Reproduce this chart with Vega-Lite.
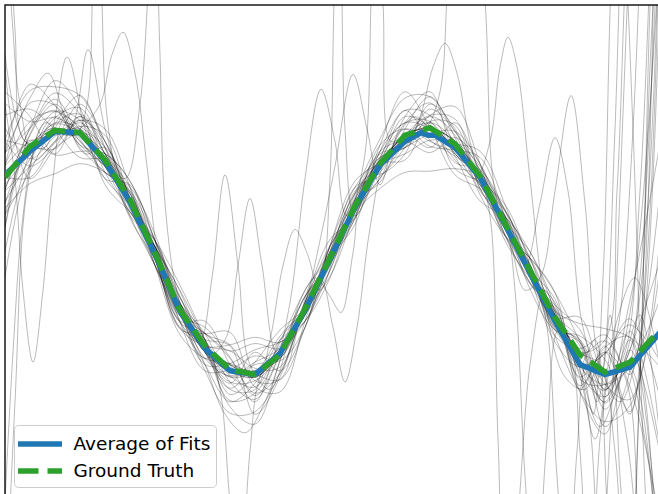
{
"$schema": "https://vega.github.io/schema/vega-lite/v6.json",
"width": 655, "height": 496,
"autosize": {"type": "none"},
"padding": {"left": 5, "top": 5, "right": 0, "bottom": 0},
"background": "white",
"config": {
  "view": {"stroke": "#1a1a1a", "strokeWidth": 1.5},
  "legend": {"orient": "none", "legendX": 9, "legendY": 420, "fillColor": "rgba(255,255,255,0.8)", "strokeColor": "#cccccc", "cornerRadius": 4, "padding": 5, "labelFont": "DejaVu Sans", "labelFontSize": 18.5, "labelColor": "#000000", "labelOffset": 19.5, "symbolSize": 484, "symbolOffset": 7, "symbolStrokeWidth": 5.5, "rowPadding": 2}
},
"datasets": {
"curves": [
{"series":"Ground Truth","x":0,"y":0.61},{"series":"Ground Truth","x":0.25,"y":0.86},{"series":"Ground Truth","x":0.5,"y":0.99},{"series":"Ground Truth","x":0.75,"y":0.97},{"series":"Ground Truth","x":1,"y":0.75},{"series":"Ground Truth","x":1.25,"y":0.43},{"series":"Ground Truth","x":1.5,"y":0.0},{"series":"Ground Truth","x":1.75,"y":-0.46},{"series":"Ground Truth","x":2,"y":-0.75},{"series":"Ground Truth","x":2.25,"y":-0.94},{"series":"Ground Truth","x":2.5,"y":-0.98},{"series":"Ground Truth","x":2.75,"y":-0.82},{"series":"Ground Truth","x":3,"y":-0.45},{"series":"Ground Truth","x":3.25,"y":-0.04},{"series":"Ground Truth","x":3.5,"y":0.38},{"series":"Ground Truth","x":3.75,"y":0.72},{"series":"Ground Truth","x":4,"y":0.95},{"series":"Ground Truth","x":4.25,"y":1.01},{"series":"Ground Truth","x":4.5,"y":0.88},{"series":"Ground Truth","x":4.75,"y":0.62},{"series":"Ground Truth","x":5,"y":0.24},{"series":"Ground Truth","x":5.25,"y":-0.14},{"series":"Ground Truth","x":5.5,"y":-0.52},{"series":"Ground Truth","x":5.75,"y":-0.82},{"series":"Ground Truth","x":6,"y":-0.96},{"series":"Ground Truth","x":6.25,"y":-0.88},{"series":"Ground Truth","x":6.55,"y":-0.62},
{"series":"Average of Fits","x":0,"y":0.63},{"series":"Average of Fits","x":0.25,"y":0.82},{"series":"Average of Fits","x":0.5,"y":0.98},{"series":"Average of Fits","x":0.75,"y":0.97},{"series":"Average of Fits","x":1,"y":0.74},{"series":"Average of Fits","x":1.25,"y":0.41},{"series":"Average of Fits","x":1.5,"y":-0.01},{"series":"Average of Fits","x":1.75,"y":-0.47},{"series":"Average of Fits","x":2,"y":-0.77},{"series":"Average of Fits","x":2.25,"y":-0.95},{"series":"Average of Fits","x":2.5,"y":-0.98},{"series":"Average of Fits","x":2.75,"y":-0.81},{"series":"Average of Fits","x":3,"y":-0.46},{"series":"Average of Fits","x":3.25,"y":-0.05},{"series":"Average of Fits","x":3.5,"y":0.37},{"series":"Average of Fits","x":3.75,"y":0.71},{"series":"Average of Fits","x":4,"y":0.9},{"series":"Average of Fits","x":4.16,"y":0.97},{"series":"Average of Fits","x":4.23,"y":0.95},{"series":"Average of Fits","x":4.3,"y":0.95},{"series":"Average of Fits","x":4.5,"y":0.85},{"series":"Average of Fits","x":4.75,"y":0.61},{"series":"Average of Fits","x":5,"y":0.23},{"series":"Average of Fits","x":5.25,"y":-0.16},{"series":"Average of Fits","x":5.5,"y":-0.55},{"series":"Average of Fits","x":5.75,"y":-0.9},{"series":"Average of Fits","x":6,"y":-0.98},{"series":"Average of Fits","x":6.25,"y":-0.92},{"series":"Average of Fits","x":6.55,"y":-0.64}
],
"fits": [
{"s":"T1","x":0,"y":0.71},{"s":"T1","x":0.25,"y":1.06},{"s":"T1","x":0.5,"y":1.14},{"s":"T1","x":0.75,"y":1.02},{"s":"T1","x":1,"y":0.85},{"s":"T1","x":1.25,"y":0.38},{"s":"T1","x":1.5,"y":0.05},{"s":"T1","x":1.75,"y":-0.46},{"s":"T1","x":2,"y":-0.85},{"s":"T1","x":2.25,"y":-0.99},{"s":"T1","x":2.5,"y":-0.88},{"s":"T1","x":2.75,"y":-0.77},{"s":"T1","x":3,"y":-0.5},{"s":"T1","x":3.25,"y":0.01},{"s":"T1","x":3.5,"y":0.48},{"s":"T1","x":3.75,"y":0.67},{"s":"T1","x":4,"y":1.05},{"s":"T1","x":4.25,"y":1.21},{"s":"T1","x":4.5,"y":0.88},{"s":"T1","x":4.75,"y":0.67},{"s":"T1","x":5,"y":0.19},{"s":"T1","x":5.25,"y":-0.04},{"s":"T1","x":5.5,"y":-0.52},{"s":"T1","x":5.75,"y":-0.92},{"s":"T1","x":6,"y":-0.81},{"s":"T1","x":6.25,"y":-0.58},{"s":"T1","x":6.55,"y":-0.87},
{"s":"T2","x":0,"y":0.41},{"s":"T2","x":0.25,"y":0.76},{"s":"T2","x":0.5,"y":1.09},{"s":"T2","x":0.75,"y":1.17},{"s":"T2","x":1,"y":0.8},{"s":"T2","x":1.25,"y":0.53},{"s":"T2","x":1.5,"y":-0.05},{"s":"T2","x":1.75,"y":-0.61},{"s":"T2","x":2,"y":-0.75},{"s":"T2","x":2.25,"y":-0.79},{"s":"T2","x":2.5,"y":-0.93},{"s":"T2","x":2.75,"y":-0.92},{"s":"T2","x":3,"y":-0.4},{"s":"T2","x":3.25,"y":0.06},{"s":"T2","x":3.5,"y":0.33},{"s":"T2","x":3.75,"y":0.72},{"s":"T2","x":4,"y":1.1},{"s":"T2","x":4.25,"y":1.01},{"s":"T2","x":4.5,"y":0.73},{"s":"T2","x":4.75,"y":0.67},{"s":"T2","x":5,"y":0.34},{"s":"T2","x":5.25,"y":-0.19},{"s":"T2","x":5.5,"y":-0.42},{"s":"T2","x":5.75,"y":-0.62},{"s":"T2","x":6,"y":-1.06},{"s":"T2","x":6.25,"y":-1.18},{"s":"T2","x":6.55,"y":0.13},
{"s":"T3","x":0,"y":0.91},{"s":"T3","x":0.25,"y":0.86},{"s":"T3","x":0.5,"y":0.84},{"s":"T3","x":0.75,"y":1.07},{"s":"T3","x":1,"y":0.9},{"s":"T3","x":1.25,"y":0.38},{"s":"T3","x":1.5,"y":-0.1},{"s":"T3","x":1.75,"y":-0.41},{"s":"T3","x":2,"y":-0.65},{"s":"T3","x":2.25,"y":-1.04},{"s":"T3","x":2.5,"y":-1.18},{"s":"T3","x":2.75,"y":-0.82},{"s":"T3","x":3,"y":-0.35},{"s":"T3","x":3.25,"y":-0.09},{"s":"T3","x":3.5,"y":0.38},{"s":"T3","x":3.75,"y":0.82},{"s":"T3","x":4,"y":0.9},{"s":"T3","x":4.25,"y":0.81},{"s":"T3","x":4.5,"y":0.93},{"s":"T3","x":4.75,"y":0.72},{"s":"T3","x":5,"y":0.24},{"s":"T3","x":5.25,"y":-0.09},{"s":"T3","x":5.5,"y":-0.62},{"s":"T3","x":5.75,"y":-0.82},{"s":"T3","x":6,"y":-0.71},{"s":"T3","x":6.25,"y":-1.08},{"s":"T3","x":6.55,"y":-2.17},
{"s":"T4","x":0,"y":0.21},{"s":"T4","x":0.25,"y":0.96},{"s":"T4","x":0.5,"y":1.24},{"s":"T4","x":0.75,"y":0.92},{"s":"T4","x":1,"y":0.65},{"s":"T4","x":1.25,"y":0.53},{"s":"T4","x":1.5,"y":0.15},{"s":"T4","x":1.75,"y":-0.46},{"s":"T4","x":2,"y":-0.9},{"s":"T4","x":2.25,"y":-0.89},{"s":"T4","x":2.5,"y":-0.78},{"s":"T4","x":2.75,"y":-0.72},{"s":"T4","x":3,"y":-0.55},{"s":"T4","x":3.25,"y":-0.04},{"s":"T4","x":3.5,"y":0.53},{"s":"T4","x":3.75,"y":0.62},{"s":"T4","x":4,"y":0.85},{"s":"T4","x":4.25,"y":1.16},{"s":"T4","x":4.5,"y":0.98},{"s":"T4","x":4.75,"y":0.57},{"s":"T4","x":5,"y":0.14},{"s":"T4","x":5.25,"y":-0.14},{"s":"T4","x":5.5,"y":-0.37},{"s":"T4","x":5.75,"y":-0.97},{"s":"T4","x":6,"y":-1.16},{"s":"T4","x":6.25,"y":-0.48},{"s":"T4","x":6.55,"y":2.5},
{"s":"T5","x":0,"y":1.11},{"s":"T5","x":0.25,"y":1.16},{"s":"T5","x":0.5,"y":0.99},{"s":"T5","x":0.75,"y":0.77},{"s":"T5","x":1,"y":0.75},{"s":"T5","x":1.25,"y":0.48},{"s":"T5","x":1.5,"y":0.0},{"s":"T5","x":1.75,"y":-0.36},{"s":"T5","x":2,"y":-0.7},{"s":"T5","x":2.25,"y":-1.14},{"s":"T5","x":2.5,"y":-0.98},{"s":"T5","x":2.75,"y":-0.67},{"s":"T5","x":3,"y":-0.45},{"s":"T5","x":3.25,"y":-0.14},{"s":"T5","x":3.5,"y":0.43},{"s":"T5","x":3.75,"y":0.77},{"s":"T5","x":4,"y":1.15},{"s":"T5","x":4.25,"y":0.91},{"s":"T5","x":4.5,"y":0.78},{"s":"T5","x":4.75,"y":0.62},{"s":"T5","x":5,"y":0.34},{"s":"T5","x":5.25,"y":-0.04},{"s":"T5","x":5.5,"y":-0.57},{"s":"T5","x":5.75,"y":-0.72},{"s":"T5","x":6,"y":-1.26},{"s":"T5","x":6.25,"y":-0.78},{"s":"T5","x":6.55,"y":-0.07},
{"s":"T6","x":0,"y":0.61},{"s":"T6","x":0.25,"y":0.61},{"s":"T6","x":0.5,"y":0.89},{"s":"T6","x":0.75,"y":1.02},{"s":"T6","x":1,"y":0.95},{"s":"T6","x":1.25,"y":0.43},{"s":"T6","x":1.5,"y":-0.1},{"s":"T6","x":1.75,"y":-0.51},{"s":"T6","x":2,"y":-0.6},{"s":"T6","x":2.25,"y":-0.84},{"s":"T6","x":2.5,"y":-1.13},{"s":"T6","x":2.75,"y":-0.97},{"s":"T6","x":3,"y":-0.4},{"s":"T6","x":3.25,"y":0.11},{"s":"T6","x":3.5,"y":0.28},{"s":"T6","x":3.75,"y":0.67},{"s":"T6","x":4,"y":0.95},{"s":"T6","x":4.25,"y":1.11},{"s":"T6","x":4.5,"y":1.08},{"s":"T6","x":4.75,"y":0.52},{"s":"T6","x":5,"y":0.19},{"s":"T6","x":5.25,"y":-0.24},{"s":"T6","x":5.5,"y":-0.47},{"s":"T6","x":5.75,"y":-1.07},{"s":"T6","x":6,"y":-0.76},{"s":"T6","x":6.25,"y":-0.68},{"s":"T6","x":6.55,"y":-3.67},
{"s":"T7","x":0,"y":0.81},{"s":"T7","x":0.25,"y":1.01},{"s":"T7","x":0.5,"y":1.29},{"s":"T7","x":0.75,"y":1.12},{"s":"T7","x":1,"y":0.7},{"s":"T7","x":1.25,"y":0.33},{"s":"T7","x":1.5,"y":0.05},{"s":"T7","x":1.75,"y":-0.31},{"s":"T7","x":2,"y":-0.8},{"s":"T7","x":2.25,"y":-1.09},{"s":"T7","x":2.5,"y":-0.88},{"s":"T7","x":2.75,"y":-0.62},{"s":"T7","x":3,"y":-0.45},{"s":"T7","x":3.25,"y":-0.19},{"s":"T7","x":3.5,"y":0.33},{"s":"T7","x":3.75,"y":0.87},{"s":"T7","x":4,"y":1.0},{"s":"T7","x":4.25,"y":0.86},{"s":"T7","x":4.5,"y":0.83},{"s":"T7","x":4.75,"y":0.77},{"s":"T7","x":5,"y":0.29},{"s":"T7","x":5.25,"y":-0.29},{"s":"T7","x":5.5,"y":-0.62},{"s":"T7","x":5.75,"y":-0.67},{"s":"T7","x":6,"y":-0.86},{"s":"T7","x":6.25,"y":-1.28},{"s":"T7","x":6.55,"y":2.2},
{"s":"T8","x":0,"y":0.51},{"s":"T8","x":0.25,"y":0.91},{"s":"T8","x":0.5,"y":0.79},{"s":"T8","x":0.75,"y":0.82},{"s":"T8","x":1,"y":0.8},{"s":"T8","x":1.25,"y":0.58},{"s":"T8","x":1.5,"y":0.1},{"s":"T8","x":1.75,"y":-0.56},{"s":"T8","x":2,"y":-0.95},{"s":"T8","x":2.25,"y":-0.94},{"s":"T8","x":2.5,"y":-0.83},{"s":"T8","x":2.75,"y":-0.87},{"s":"T8","x":3,"y":-0.6},{"s":"T8","x":3.25,"y":0.01},{"s":"T8","x":3.5,"y":0.48},{"s":"T8","x":3.75,"y":0.72},{"s":"T8","x":4,"y":0.75},{"s":"T8","x":4.25,"y":1.06},{"s":"T8","x":4.5,"y":1.03},{"s":"T8","x":4.75,"y":0.52},{"s":"T8","x":5,"y":0.24},{"s":"T8","x":5.25,"y":0.01},{"s":"T8","x":5.5,"y":-0.42},{"s":"T8","x":5.75,"y":-0.87},{"s":"T8","x":6,"y":-1.11},{"s":"T8","x":6.25,"y":-0.63},{"s":"T8","x":6.55,"y":-1.57},
{"s":"T9","x":0,"y":1.21},{"s":"T9","x":0.25,"y":1.06},{"s":"T9","x":0.5,"y":1.09},{"s":"T9","x":0.75,"y":0.97},{"s":"T9","x":1,"y":0.6},{"s":"T9","x":1.25,"y":0.38},{"s":"T9","x":1.5,"y":0.1},{"s":"T9","x":1.75,"y":-0.41},{"s":"T9","x":2,"y":-0.65},{"s":"T9","x":2.25,"y":-0.74},{"s":"T9","x":2.5,"y":-1.03},{"s":"T9","x":2.75,"y":-1.02},{"s":"T9","x":3,"y":-0.4},{"s":"T9","x":3.25,"y":-0.04},{"s":"T9","x":3.5,"y":0.23},{"s":"T9","x":3.75,"y":0.82},{"s":"T9","x":4,"y":1.05},{"s":"T9","x":4.25,"y":1.06},{"s":"T9","x":4.5,"y":0.68},{"s":"T9","x":4.75,"y":0.57},{"s":"T9","x":5,"y":0.39},{"s":"T9","x":5.25,"y":-0.09},{"s":"T9","x":5.5,"y":-0.67},{"s":"T9","x":5.75,"y":-0.77},{"s":"T9","x":6,"y":-0.66},{"s":"T9","x":6.25,"y":-0.98},{"s":"T9","x":6.55,"y":2.8},
{"s":"T10","x":0,"y":0.31},{"s":"T10","x":0.25,"y":0.66},{"s":"T10","x":0.5,"y":1.04},{"s":"T10","x":0.75,"y":1.27},{"s":"T10","x":1,"y":0.85},{"s":"T10","x":1.25,"y":0.28},{"s":"T10","x":1.5,"y":-0.05},{"s":"T10","x":1.75,"y":-0.41},{"s":"T10","x":2,"y":-0.7},{"s":"T10","x":2.25,"y":-0.99},{"s":"T10","x":2.5,"y":-1.08},{"s":"T10","x":2.75,"y":-0.72},{"s":"T10","x":3,"y":-0.3},{"s":"T10","x":3.25,"y":0.01},{"s":"T10","x":3.5,"y":0.43},{"s":"T10","x":3.75,"y":0.57},{"s":"T10","x":4,"y":1.0},{"s":"T10","x":4.25,"y":1.26},{"s":"T10","x":4.5,"y":0.93},{"s":"T10","x":4.75,"y":0.47},{"s":"T10","x":5,"y":0.14},{"s":"T10","x":5.25,"y":-0.04},{"s":"T10","x":5.5,"y":-0.32},{"s":"T10","x":5.75,"y":-0.72},{"s":"T10","x":6,"y":-1.21},{"s":"T10","x":6.25,"y":-0.93},{"s":"T10","x":6.55,"y":-2.67},
{"s":"T11","x":0,"y":0.71},{"s":"T11","x":0.25,"y":1.21},{"s":"T11","x":0.5,"y":1.19},{"s":"T11","x":0.75,"y":0.87},{"s":"T11","x":1,"y":0.7},{"s":"T11","x":1.25,"y":0.48},{"s":"T11","x":1.5,"y":-0.05},{"s":"T11","x":1.75,"y":-0.56},{"s":"T11","x":2,"y":-0.65},{"s":"T11","x":2.25,"y":-0.79},{"s":"T11","x":2.5,"y":-0.73},{"s":"T11","x":2.75,"y":-0.77},{"s":"T11","x":3,"y":-0.55},{"s":"T11","x":3.25,"y":-0.14},{"s":"T11","x":3.5,"y":0.43},{"s":"T11","x":3.75,"y":0.77},{"s":"T11","x":4,"y":0.85},{"s":"T11","x":4.25,"y":0.96},{"s":"T11","x":4.5,"y":0.98},{"s":"T11","x":4.75,"y":0.72},{"s":"T11","x":5,"y":0.14},{"s":"T11","x":5.25,"y":-0.24},{"s":"T11","x":5.5,"y":-0.52},{"s":"T11","x":5.75,"y":-0.52},{"s":"T11","x":6,"y":-0.96},{"s":"T11","x":6.25,"y":-0.88},{"s":"T11","x":6.55,"y":-0.37},
{"s":"T12","x":0,"y":0.61},{"s":"T12","x":0.25,"y":0.86},{"s":"T12","x":0.5,"y":1.04},{"s":"T12","x":0.75,"y":0.97},{"s":"T12","x":1,"y":0.75},{"s":"T12","x":1.25,"y":0.43},{"s":"T12","x":1.5,"y":0.0},{"s":"T12","x":1.75,"y":-0.46},{"s":"T12","x":2,"y":-0.8},{"s":"T12","x":2.25,"y":-1.04},{"s":"T12","x":2.5,"y":-1.03},{"s":"T12","x":2.75,"y":-0.82},{"s":"T12","x":3,"y":-0.45},{"s":"T12","x":3.25,"y":-0.04},{"s":"T12","x":3.5,"y":0.38},{"s":"T12","x":3.75,"y":0.72},{"s":"T12","x":4,"y":0.95},{"s":"T12","x":4.25,"y":0.96},{"s":"T12","x":4.5,"y":0.83},{"s":"T12","x":4.75,"y":0.62},{"s":"T12","x":5,"y":0.24},{"s":"T12","x":5.25,"y":-0.14},{"s":"T12","x":5.5,"y":-0.52},{"s":"T12","x":5.75,"y":-0.92},{"s":"T12","x":6,"y":-1.06},{"s":"T12","x":6.25,"y":-0.93},{"s":"T12","x":6.55,"y":-0.67},
{"s":"T13","x":0,"y":1.01},{"s":"T13","x":0.25,"y":0.76},{"s":"T13","x":0.5,"y":0.94},{"s":"T13","x":0.75,"y":1.07},{"s":"T13","x":1,"y":1.0},{"s":"T13","x":1.25,"y":0.53},{"s":"T13","x":1.5,"y":-0.1},{"s":"T13","x":1.75,"y":-0.66},{"s":"T13","x":2,"y":-0.85},{"s":"T13","x":2.25,"y":-0.89},{"s":"T13","x":2.5,"y":-0.98},{"s":"T13","x":2.75,"y":-1.02},{"s":"T13","x":3,"y":-0.6},{"s":"T13","x":3.25,"y":0.06},{"s":"T13","x":3.5,"y":0.58},{"s":"T13","x":3.75,"y":0.72},{"s":"T13","x":4,"y":0.8},{"s":"T13","x":4.25,"y":0.91},{"s":"T13","x":4.5,"y":0.88},{"s":"T13","x":4.75,"y":0.82},{"s":"T13","x":5,"y":0.39},{"s":"T13","x":5.25,"y":-0.19},{"s":"T13","x":5.5,"y":-0.72},{"s":"T13","x":5.75,"y":-0.92},{"s":"T13","x":6,"y":-0.81},{"s":"T13","x":6.25,"y":-0.53},{"s":"T13","x":6.55,"y":-1.17},
{"s":"T14","x":0,"y":0.01},{"s":"T14","x":0.25,"y":0.81},{"s":"T14","x":0.5,"y":1.14},{"s":"T14","x":0.75,"y":1.07},{"s":"T14","x":1,"y":0.65},{"s":"T14","x":1.25,"y":0.33},{"s":"T14","x":1.5,"y":0.05},{"s":"T14","x":1.75,"y":-0.36},{"s":"T14","x":2,"y":-0.75},{"s":"T14","x":2.25,"y":-1.19},{"s":"T14","x":2.5,"y":-1.13},{"s":"T14","x":2.75,"y":-0.77},{"s":"T14","x":3,"y":-0.35},{"s":"T14","x":3.25,"y":-0.09},{"s":"T14","x":3.5,"y":0.28},{"s":"T14","x":3.75,"y":0.82},{"s":"T14","x":4,"y":1.15},{"s":"T14","x":4.25,"y":1.11},{"s":"T14","x":4.5,"y":0.78},{"s":"T14","x":4.75,"y":0.42},{"s":"T14","x":5,"y":0.29},{"s":"T14","x":5.25,"y":0.01},{"s":"T14","x":5.5,"y":-0.47},{"s":"T14","x":5.75,"y":-1.02},{"s":"T14","x":6,"y":-1.06},{"s":"T14","x":6.25,"y":-0.78},{"s":"T14","x":6.55,"y":3.0},
{"s":"T15","x":0,"y":0.91},{"s":"T15","x":0.25,"y":1.31},{"s":"T15","x":0.5,"y":1.34},{"s":"T15","x":0.75,"y":1.27},{"s":"T15","x":1,"y":0.9},{"s":"T15","x":1.25,"y":0.43},{"s":"T15","x":1.5,"y":-0.05},{"s":"T15","x":1.75,"y":-0.56},{"s":"T15","x":2,"y":-0.75},{"s":"T15","x":2.25,"y":-0.74},{"s":"T15","x":2.5,"y":-0.68},{"s":"T15","x":2.75,"y":-0.72},{"s":"T15","x":3,"y":-0.5},{"s":"T15","x":3.25,"y":-0.04},{"s":"T15","x":3.5,"y":0.48},{"s":"T15","x":3.75,"y":0.92},{"s":"T15","x":4,"y":1.25},{"s":"T15","x":4.25,"y":1.26},{"s":"T15","x":4.5,"y":0.98},{"s":"T15","x":4.75,"y":0.67},{"s":"T15","x":5,"y":0.24},{"s":"T15","x":5.25,"y":-0.19},{"s":"T15","x":5.5,"y":-0.47},{"s":"T15","x":5.75,"y":-0.57},{"s":"T15","x":6,"y":-0.61},{"s":"T15","x":6.25,"y":-0.68},{"s":"T15","x":6.55,"y":-0.92},
{"s":"T16","x":0,"y":0.36},{"s":"T16","x":0.25,"y":0.56},{"s":"T16","x":0.5,"y":0.64},{"s":"T16","x":0.75,"y":0.72},{"s":"T16","x":1,"y":0.65},{"s":"T16","x":1.25,"y":0.48},{"s":"T16","x":1.5,"y":0.05},{"s":"T16","x":1.75,"y":-0.46},{"s":"T16","x":2,"y":-0.95},{"s":"T16","x":2.25,"y":-1.29},{"s":"T16","x":2.5,"y":-1.28},{"s":"T16","x":2.75,"y":-0.97},{"s":"T16","x":3,"y":-0.45},{"s":"T16","x":3.25,"y":0.01},{"s":"T16","x":3.5,"y":0.33},{"s":"T16","x":3.75,"y":0.52},{"s":"T16","x":4,"y":0.65},{"s":"T16","x":4.25,"y":0.66},{"s":"T16","x":4.5,"y":0.68},{"s":"T16","x":4.75,"y":0.62},{"s":"T16","x":5,"y":0.29},{"s":"T16","x":5.25,"y":-0.14},{"s":"T16","x":5.5,"y":-0.67},{"s":"T16","x":5.75,"y":-1.12},{"s":"T16","x":6,"y":-1.36},{"s":"T16","x":6.25,"y":-1.23},{"s":"T16","x":6.55,"y":-0.12},
{"s":"T17","x":0,"y":0.81},{"s":"T17","x":0.25,"y":1.36},{"s":"T17","x":0.5,"y":1.19},{"s":"T17","x":0.75,"y":0.87},{"s":"T17","x":1,"y":0.8},{"s":"T17","x":1.25,"y":0.58},{"s":"T17","x":1.5,"y":0.0},{"s":"T17","x":1.75,"y":-0.61},{"s":"T17","x":2,"y":-0.65},{"s":"T17","x":2.25,"y":-0.64},{"s":"T17","x":2.5,"y":-1.08},{"s":"T17","x":2.75,"y":-1.12},{"s":"T17","x":3,"y":-0.55},{"s":"T17","x":3.25,"y":0.06},{"s":"T17","x":3.5,"y":0.53},{"s":"T17","x":3.75,"y":0.77},{"s":"T17","x":4,"y":0.85},{"s":"T17","x":4.25,"y":1.11},{"s":"T17","x":4.5,"y":1.18},{"s":"T17","x":4.75,"y":0.72},{"s":"T17","x":5,"y":0.14},{"s":"T17","x":5.25,"y":-0.04},{"s":"T17","x":5.5,"y":-0.32},{"s":"T17","x":5.75,"y":-1.12},{"s":"T17","x":6,"y":-1.46},{"s":"T17","x":6.25,"y":-0.78},{"s":"T17","x":6.55,"y":-1.62},
{"s":"T18","x":0,"y":0.51},{"s":"T18","x":0.25,"y":1.01},{"s":"T18","x":0.5,"y":1.39},{"s":"T18","x":0.75,"y":1.17},{"s":"T18","x":1,"y":0.55},{"s":"T18","x":1.25,"y":0.33},{"s":"T18","x":1.5,"y":0.1},{"s":"T18","x":1.75,"y":-0.26},{"s":"T18","x":2,"y":-0.7},{"s":"T18","x":2.25,"y":-1.24},{"s":"T18","x":2.5,"y":-1.38},{"s":"T18","x":2.75,"y":-0.87},{"s":"T18","x":3,"y":-0.3},{"s":"T18","x":3.25,"y":-0.04},{"s":"T18","x":3.5,"y":0.28},{"s":"T18","x":3.75,"y":0.87},{"s":"T18","x":4,"y":1.3},{"s":"T18","x":4.25,"y":1.01},{"s":"T18","x":4.5,"y":0.63},{"s":"T18","x":4.75,"y":0.52},{"s":"T18","x":5,"y":0.34},{"s":"T18","x":5.25,"y":-0.14},{"s":"T18","x":5.5,"y":-0.62},{"s":"T18","x":5.75,"y":-0.72},{"s":"T18","x":6,"y":-1.16},{"s":"T18","x":6.25,"y":-0.38},{"s":"T18","x":6.55,"y":0.88},
{"s":"M1","x":0,"y":0.9},{"s":"M1","x":0.25,"y":0.7},{"s":"M1","x":0.5,"y":0.85},{"s":"M1","x":0.75,"y":1.0},{"s":"M1","x":0.95,"y":1.2},{"s":"M1","x":1.07,"y":1.6},{"s":"M1","x":1.18,"y":1.78},{"s":"M1","x":1.3,"y":1.45},{"s":"M1","x":1.42,"y":0.7},{"s":"M1","x":1.55,"y":-0.1},{"s":"M1","x":1.75,"y":-0.55},{"s":"M1","x":2,"y":-0.9},{"s":"M1","x":2.25,"y":-1.2},{"s":"M1","x":2.5,"y":-1.05},{"s":"M1","x":2.75,"y":-0.7},{"s":"M1","x":3,"y":-0.55},{"s":"M1","x":3.25,"y":-0.2},{"s":"M1","x":3.5,"y":0.4},{"s":"M1","x":3.75,"y":0.75},{"s":"M1","x":4,"y":0.9},{"s":"M1","x":4.25,"y":1.1},{"s":"M1","x":4.5,"y":0.95},{"s":"M1","x":4.75,"y":0.5},{"s":"M1","x":5,"y":0.3},{"s":"M1","x":5.25,"y":-0.2},{"s":"M1","x":5.5,"y":-0.45},{"s":"M1","x":5.75,"y":-1.0},{"s":"M1","x":6,"y":-0.8},{"s":"M1","x":6.25,"y":-1.3},{"s":"M1","x":6.5,"y":3.0},
{"s":"M2","x":0,"y":1.3},{"s":"M2","x":0.25,"y":1.1},{"s":"M2","x":0.5,"y":0.8},{"s":"M2","x":0.75,"y":1.1},{"s":"M2","x":1,"y":0.8},{"s":"M2","x":1.25,"y":0.3},{"s":"M2","x":1.5,"y":0.1},{"s":"M2","x":1.75,"y":-0.4},{"s":"M2","x":1.95,"y":-0.7},{"s":"M2","x":2.07,"y":-0.2},{"s":"M2","x":2.2,"y":0.63},{"s":"M2","x":2.33,"y":-0.1},{"s":"M2","x":2.45,"y":-0.9},{"s":"M2","x":2.65,"y":-1.1},{"s":"M2","x":2.85,"y":-0.7},{"s":"M2","x":3,"y":-0.5},{"s":"M2","x":3.25,"y":0.05},{"s":"M2","x":3.5,"y":0.35},{"s":"M2","x":3.75,"y":0.6},{"s":"M2","x":4,"y":0.9},{"s":"M2","x":4.15,"y":1.1},{"s":"M2","x":4.28,"y":1.5},{"s":"M2","x":4.4,"y":1.69},{"s":"M2","x":4.52,"y":1.45},{"s":"M2","x":4.65,"y":0.9},{"s":"M2","x":4.8,"y":0.5},{"s":"M2","x":5,"y":0.2},{"s":"M2","x":5.25,"y":-0.2},{"s":"M2","x":5.5,"y":-0.6},{"s":"M2","x":5.75,"y":-0.9},{"s":"M2","x":6,"y":-1.2},{"s":"M2","x":6.25,"y":-0.7},{"s":"M2","x":6.55,"y":-2.5},
{"s":"M3","x":0,"y":0.3},{"s":"M3","x":0.25,"y":0.95},{"s":"M3","x":0.5,"y":1.2},{"s":"M3","x":0.75,"y":0.9},{"s":"M3","x":1,"y":0.7},{"s":"M3","x":1.25,"y":0.5},{"s":"M3","x":1.5,"y":-0.1},{"s":"M3","x":1.75,"y":-0.5},{"s":"M3","x":2,"y":-0.85},{"s":"M3","x":2.2,"y":-0.7},{"s":"M3","x":2.33,"y":-0.1},{"s":"M3","x":2.45,"y":0.44},{"s":"M3","x":2.57,"y":-0.1},{"s":"M3","x":2.72,"y":-0.8},{"s":"M3","x":2.9,"y":-0.6},{"s":"M3","x":3.1,"y":-0.3},{"s":"M3","x":3.3,"y":0.0},{"s":"M3","x":3.5,"y":0.3},{"s":"M3","x":3.75,"y":0.75},{"s":"M3","x":4,"y":1.0},{"s":"M3","x":4.25,"y":0.9},{"s":"M3","x":4.5,"y":0.8},{"s":"M3","x":4.7,"y":0.6},{"s":"M3","x":4.85,"y":0.9},{"s":"M3","x":4.95,"y":1.5},{"s":"M3","x":5.03,"y":1.74},{"s":"M3","x":5.12,"y":1.5},{"s":"M3","x":5.25,"y":0.6},{"s":"M3","x":5.4,"y":-0.4},{"s":"M3","x":5.6,"y":-1.0},{"s":"M3","x":5.8,"y":-1.1},{"s":"M3","x":6,"y":-0.8},{"s":"M3","x":6.2,"y":-1.0},{"s":"M3","x":6.35,"y":-2.5},{"s":"M3","x":6.5,"y":-4.0},
{"s":"M4","x":0,"y":0.5},{"s":"M4","x":0.25,"y":0.7},{"s":"M4","x":0.5,"y":0.9},{"s":"M4","x":0.75,"y":1.2},{"s":"M4","x":1,"y":0.9},{"s":"M4","x":1.25,"y":0.45},{"s":"M4","x":1.5,"y":0.05},{"s":"M4","x":1.75,"y":-0.3},{"s":"M4","x":2,"y":-0.7},{"s":"M4","x":2.25,"y":-1.1},{"s":"M4","x":2.5,"y":-1.1},{"s":"M4","x":2.65,"y":-0.7},{"s":"M4","x":2.78,"y":-0.1},{"s":"M4","x":2.9,"y":0.19},{"s":"M4","x":3.02,"y":0.0},{"s":"M4","x":3.15,"y":-0.3},{"s":"M4","x":3.3,"y":0.0},{"s":"M4","x":3.5,"y":0.45},{"s":"M4","x":3.75,"y":0.8},{"s":"M4","x":4,"y":0.85},{"s":"M4","x":4.25,"y":1.0},{"s":"M4","x":4.5,"y":0.9},{"s":"M4","x":4.75,"y":0.7},{"s":"M4","x":5,"y":0.3},{"s":"M4","x":5.2,"y":-0.1},{"s":"M4","x":5.35,"y":0.4},{"s":"M4","x":5.5,"y":0.93},{"s":"M4","x":5.63,"y":0.5},{"s":"M4","x":5.78,"y":-0.6},{"s":"M4","x":6,"y":-1.1},{"s":"M4","x":6.2,"y":-0.9},{"s":"M4","x":6.4,"y":-1.5},{"s":"M4","x":6.55,"y":-2.6},
{"s":"M5","x":0,"y":1.5},{"s":"M5","x":0.1,"y":0.9},{"s":"M5","x":0.25,"y":0.6},{"s":"M5","x":0.5,"y":0.85},{"s":"M5","x":0.75,"y":1.1},{"s":"M5","x":1,"y":0.85},{"s":"M5","x":1.25,"y":0.3},{"s":"M5","x":1.5,"y":-0.1},{"s":"M5","x":1.75,"y":-0.5},{"s":"M5","x":2,"y":-0.65},{"s":"M5","x":2.25,"y":-0.85},{"s":"M5","x":2.5,"y":-1.15},{"s":"M5","x":2.7,"y":-0.9},{"s":"M5","x":2.85,"y":-0.4},{"s":"M5","x":3,"y":0.6},{"s":"M5","x":3.16,"y":1.32},{"s":"M5","x":3.3,"y":0.9},{"s":"M5","x":3.42,"y":0.3},{"s":"M5","x":3.6,"y":0.45},{"s":"M5","x":3.8,"y":0.85},{"s":"M5","x":4,"y":1.05},{"s":"M5","x":4.25,"y":1.0},{"s":"M5","x":4.5,"y":0.75},{"s":"M5","x":4.75,"y":0.55},{"s":"M5","x":5,"y":0.25},{"s":"M5","x":5.2,"y":-0.3},{"s":"M5","x":5.35,"y":-0.2},{"s":"M5","x":5.5,"y":0.5},{"s":"M5","x":5.66,"y":1.27},{"s":"M5","x":5.8,"y":0.4},{"s":"M5","x":5.95,"y":-0.9},{"s":"M5","x":6.15,"y":-1.2},{"s":"M5","x":6.35,"y":-0.7},{"s":"M5","x":6.55,"y":0.5},
{"s":"M6","x":0,"y":1.2},{"s":"M6","x":0.1,"y":0.6},{"s":"M6","x":0.18,"y":-0.3},{"s":"M6","x":0.28,"y":-0.88},{"s":"M6","x":0.38,"y":-0.3},{"s":"M6","x":0.48,"y":0.6},{"s":"M6","x":0.6,"y":1.1},{"s":"M6","x":0.8,"y":1.1},{"s":"M6","x":1,"y":0.7},{"s":"M6","x":1.25,"y":0.4},{"s":"M6","x":1.5,"y":0.0},{"s":"M6","x":1.75,"y":-0.5},{"s":"M6","x":2,"y":-0.8},{"s":"M6","x":2.25,"y":-1.0},{"s":"M6","x":2.5,"y":-0.9},{"s":"M6","x":2.75,"y":-0.85},{"s":"M6","x":3,"y":-0.4},{"s":"M6","x":3.15,"y":0.1},{"s":"M6","x":3.3,"y":0.7},{"s":"M6","x":3.48,"y":1.44},{"s":"M6","x":3.62,"y":1.0},{"s":"M6","x":3.75,"y":0.55},{"s":"M6","x":3.9,"y":0.9},{"s":"M6","x":4.1,"y":1.1},{"s":"M6","x":4.3,"y":0.95},{"s":"M6","x":4.5,"y":0.85},{"s":"M6","x":4.75,"y":0.65},{"s":"M6","x":5,"y":0.2},{"s":"M6","x":5.25,"y":-0.1},{"s":"M6","x":5.5,"y":-0.6},{"s":"M6","x":5.75,"y":-0.7},{"s":"M6","x":6,"y":-1.1},{"s":"M6","x":6.2,"y":-0.8},{"s":"M6","x":6.35,"y":0.5},{"s":"M6","x":6.5,"y":3.5},
{"s":"M7","x":0,"y":0.2},{"s":"M7","x":0.25,"y":1.0},{"s":"M7","x":0.5,"y":1.15},{"s":"M7","x":0.75,"y":0.85},{"s":"M7","x":1,"y":0.65},{"s":"M7","x":1.25,"y":0.5},{"s":"M7","x":1.5,"y":0.1},{"s":"M7","x":1.75,"y":-0.45},{"s":"M7","x":2,"y":-0.9},{"s":"M7","x":2.2,"y":-1.3},{"s":"M7","x":2.4,"y":-1.45},{"s":"M7","x":2.6,"y":-1.2},{"s":"M7","x":2.8,"y":-0.75},{"s":"M7","x":3,"y":-0.35},{"s":"M7","x":3.15,"y":-0.2},{"s":"M7","x":3.28,"y":-0.6},{"s":"M7","x":3.4,"y":-1.04},{"s":"M7","x":3.52,"y":-0.6},{"s":"M7","x":3.65,"y":0.2},{"s":"M7","x":3.8,"y":0.75},{"s":"M7","x":4,"y":0.95},{"s":"M7","x":4.25,"y":1.05},{"s":"M7","x":4.5,"y":0.8},{"s":"M7","x":4.75,"y":0.6},{"s":"M7","x":5,"y":0.15},{"s":"M7","x":5.25,"y":-0.25},{"s":"M7","x":5.5,"y":-0.45},{"s":"M7","x":5.75,"y":-0.95},{"s":"M7","x":5.95,"y":-1.4},{"s":"M7","x":6.15,"y":-1.0},{"s":"M7","x":6.35,"y":-0.5},{"s":"M7","x":6.55,"y":-1.5},
{"s":"M8","x":0,"y":0.8},{"s":"M8","x":0.25,"y":1.25},{"s":"M8","x":0.43,"y":1.45},{"s":"M8","x":0.6,"y":1.1},{"s":"M8","x":0.8,"y":0.8},{"s":"M8","x":1,"y":0.85},{"s":"M8","x":1.25,"y":0.45},{"s":"M8","x":1.5,"y":-0.05},{"s":"M8","x":1.75,"y":-0.6},{"s":"M8","x":2,"y":-0.7},{"s":"M8","x":2.25,"y":-0.75},{"s":"M8","x":2.5,"y":-1.3},{"s":"M8","x":2.75,"y":-1.0},{"s":"M8","x":2.95,"y":-0.5},{"s":"M8","x":3.1,"y":-0.2},{"s":"M8","x":3.25,"y":-0.35},{"s":"M8","x":3.36,"y":-0.48},{"s":"M8","x":3.48,"y":0.0},{"s":"M8","x":3.6,"y":0.6},{"s":"M8","x":3.8,"y":0.65},{"s":"M8","x":4,"y":0.8},{"s":"M8","x":4.25,"y":1.2},{"s":"M8","x":4.5,"y":1.0},{"s":"M8","x":4.75,"y":0.55},{"s":"M8","x":5,"y":0.3},{"s":"M8","x":5.25,"y":-0.1},{"s":"M8","x":5.5,"y":-0.5},{"s":"M8","x":5.75,"y":-0.7},{"s":"M8","x":6,"y":-1.4},{"s":"M8","x":6.2,"y":-1.1},{"s":"M8","x":6.35,"y":-0.2},{"s":"M8","x":6.5,"y":2.0},
{"s":"M9","x":0,"y":1.6},{"s":"M9","x":0.2,"y":0.9},{"s":"M9","x":0.4,"y":0.85},{"s":"M9","x":0.62,"y":1.58},{"s":"M9","x":0.8,"y":1.0},{"s":"M9","x":1,"y":0.6},{"s":"M9","x":1.25,"y":0.55},{"s":"M9","x":1.5,"y":0.1},{"s":"M9","x":1.75,"y":-0.35},{"s":"M9","x":2,"y":-0.8},{"s":"M9","x":2.25,"y":-1.05},{"s":"M9","x":2.5,"y":-0.8},{"s":"M9","x":2.75,"y":-0.95},{"s":"M9","x":3,"y":-0.6},{"s":"M9","x":3.25,"y":0.05},{"s":"M9","x":3.5,"y":0.4},{"s":"M9","x":3.75,"y":0.6},{"s":"M9","x":4,"y":1.1},{"s":"M9","x":4.25,"y":1.3},{"s":"M9","x":4.5,"y":0.8},{"s":"M9","x":4.75,"y":0.65},{"s":"M9","x":5,"y":0.35},{"s":"M9","x":5.25,"y":-0.05},{"s":"M9","x":5.5,"y":-0.5},{"s":"M9","x":5.75,"y":-1.0},{"s":"M9","x":5.9,"y":-1.5},{"s":"M9","x":6.1,"y":-0.6},{"s":"M9","x":6.3,"y":-0.2},{"s":"M9","x":6.55,"y":-0.9},
{"s":"M10","x":0,"y":-0.2},{"s":"M10","x":0.2,"y":0.6},{"s":"M10","x":0.45,"y":1.0},{"s":"M10","x":0.65,"y":1.0},{"s":"M10","x":0.83,"y":1.64},{"s":"M10","x":1,"y":1.0},{"s":"M10","x":1.2,"y":0.5},{"s":"M10","x":1.5,"y":0.0},{"s":"M10","x":1.75,"y":-0.55},{"s":"M10","x":2,"y":-0.55},{"s":"M10","x":2.25,"y":-0.9},{"s":"M10","x":2.5,"y":-1.2},{"s":"M10","x":2.75,"y":-0.7},{"s":"M10","x":3,"y":-0.45},{"s":"M10","x":3.25,"y":-0.1},{"s":"M10","x":3.5,"y":0.5},{"s":"M10","x":3.75,"y":0.65},{"s":"M10","x":4,"y":0.95},{"s":"M10","x":4.25,"y":0.85},{"s":"M10","x":4.5,"y":1.05},{"s":"M10","x":4.75,"y":0.65},{"s":"M10","x":5,"y":0.1},{"s":"M10","x":5.25,"y":-0.2},{"s":"M10","x":5.5,"y":-0.4},{"s":"M10","x":5.75,"y":-1.1},{"s":"M10","x":6,"y":-0.75},{"s":"M10","x":6.2,"y":-1.4},{"s":"M10","x":6.35,"y":-2.5},{"s":"M10","x":6.5,"y":-3.5},
{"s":"W1","x":0,"y":3.5},{"s":"W1","x":0.1,"y":1.8},{"s":"W1","x":0.2,"y":0.9},{"s":"W1","x":0.4,"y":0.9},{"s":"W1","x":0.6,"y":1.1},{"s":"W1","x":0.8,"y":0.95},{"s":"W1","x":1,"y":0.8},{"s":"W1","x":1.25,"y":0.35},{"s":"W1","x":1.5,"y":-0.05},{"s":"W1","x":1.75,"y":-0.5},{"s":"W1","x":2,"y":-0.75},{"s":"W1","x":2.25,"y":-0.9},{"s":"W1","x":2.5,"y":-1.0},{"s":"W1","x":2.75,"y":-0.8},{"s":"W1","x":3,"y":-0.5},{"s":"W1","x":3.25,"y":-0.05},{"s":"W1","x":3.5,"y":0.35},{"s":"W1","x":3.75,"y":0.7},{"s":"W1","x":4,"y":0.95},{"s":"W1","x":4.25,"y":1.0},{"s":"W1","x":4.5,"y":0.85},{"s":"W1","x":4.75,"y":0.6},{"s":"W1","x":5,"y":0.25},{"s":"W1","x":5.25,"y":-0.1},{"s":"W1","x":5.5,"y":-0.5},{"s":"W1","x":5.75,"y":-0.85},{"s":"W1","x":5.88,"y":-1.3},{"s":"W1","x":5.98,"y":-0.2},{"s":"W1","x":6.08,"y":2.5},{"s":"W1","x":6.2,"y":3.5},
{"s":"W2","x":0,"y":-3.0},{"s":"W2","x":0.1,"y":-1.2},{"s":"W2","x":0.22,"y":0.5},{"s":"W2","x":0.4,"y":1.05},{"s":"W2","x":0.6,"y":0.95},{"s":"W2","x":0.85,"y":0.95},{"s":"W2","x":1,"y":0.7},{"s":"W2","x":1.25,"y":0.45},{"s":"W2","x":1.5,"y":0.05},{"s":"W2","x":1.75,"y":-0.45},{"s":"W2","x":2,"y":-0.8},{"s":"W2","x":2.25,"y":-0.95},{"s":"W2","x":2.5,"y":-0.95},{"s":"W2","x":2.75,"y":-0.85},{"s":"W2","x":3,"y":-0.4},{"s":"W2","x":3.25,"y":-0.05},{"s":"W2","x":3.5,"y":0.4},{"s":"W2","x":3.75,"y":0.7},{"s":"W2","x":4,"y":0.9},{"s":"W2","x":4.25,"y":1.05},{"s":"W2","x":4.5,"y":0.9},{"s":"W2","x":4.75,"y":0.55},{"s":"W2","x":5,"y":0.25},{"s":"W2","x":5.25,"y":-0.2},{"s":"W2","x":5.5,"y":-0.5},{"s":"W2","x":5.75,"y":-0.8},{"s":"W2","x":5.95,"y":-0.9},{"s":"W2","x":6.1,"y":-1.6},{"s":"W2","x":6.22,"y":-3.0},{"s":"W2","x":6.35,"y":-1.0},{"s":"W2","x":6.45,"y":2.0},{"s":"W2","x":6.55,"y":4.0},
{"s":"W3","x":0,"y":0.4},{"s":"W3","x":0.2,"y":0.8},{"s":"W3","x":0.45,"y":1.0},{"s":"W3","x":0.7,"y":0.95},{"s":"W3","x":0.82,"y":1.2},{"s":"W3","x":0.88,"y":2.2},{"s":"W3","x":0.92,"y":2.6},{"s":"W3","x":0.96,"y":2.2},{"s":"W3","x":1.02,"y":1.1},{"s":"W3","x":1.15,"y":0.55},{"s":"W3","x":1.3,"y":0.35},{"s":"W3","x":1.5,"y":0.0},{"s":"W3","x":1.75,"y":-0.5},{"s":"W3","x":2,"y":-0.75},{"s":"W3","x":2.25,"y":-0.9},{"s":"W3","x":2.5,"y":-1.0},{"s":"W3","x":2.75,"y":-0.8},{"s":"W3","x":3,"y":-0.45},{"s":"W3","x":3.25,"y":-0.05},{"s":"W3","x":3.5,"y":0.4},{"s":"W3","x":3.75,"y":0.75},{"s":"W3","x":4,"y":0.9},{"s":"W3","x":4.25,"y":1.0},{"s":"W3","x":4.5,"y":0.9},{"s":"W3","x":4.75,"y":0.6},{"s":"W3","x":4.85,"y":0.3},{"s":"W3","x":4.93,"y":-1.5},{"s":"W3","x":5,"y":-2.6},{"s":"W3","x":5.1,"y":-2.3},{"s":"W3","x":5.25,"y":-0.9},{"s":"W3","x":5.4,"y":-0.3},{"s":"W3","x":5.55,"y":-0.6},{"s":"W3","x":5.75,"y":-0.9},{"s":"W3","x":5.9,"y":-0.7},{"s":"W3","x":6.02,"y":-2.0},{"s":"W3","x":6.12,"y":-3.0},
{"s":"W4","x":0,"y":0.6},{"s":"W4","x":0.25,"y":0.85},{"s":"W4","x":0.5,"y":1.0},{"s":"W4","x":0.75,"y":0.95},{"s":"W4","x":1,"y":0.75},{"s":"W4","x":1.2,"y":0.6},{"s":"W4","x":1.35,"y":1.2},{"s":"W4","x":1.45,"y":2.3},{"s":"W4","x":1.5,"y":2.6},{"s":"W4","x":1.55,"y":1.6},{"s":"W4","x":1.6,"y":0.4},{"s":"W4","x":1.75,"y":-0.4},{"s":"W4","x":2,"y":-0.8},{"s":"W4","x":2.25,"y":-0.95},{"s":"W4","x":2.5,"y":-1.0},{"s":"W4","x":2.75,"y":-0.8},{"s":"W4","x":3,"y":-0.5},{"s":"W4","x":3.15,"y":-0.3},{"s":"W4","x":3.25,"y":0.6},{"s":"W4","x":3.3,"y":2.2},{"s":"W4","x":3.35,"y":2.6},{"s":"W4","x":3.4,"y":1.0},{"s":"W4","x":3.5,"y":0.3},{"s":"W4","x":3.75,"y":0.7},{"s":"W4","x":4,"y":0.95},{"s":"W4","x":4.25,"y":1.0},{"s":"W4","x":4.5,"y":0.85},{"s":"W4","x":4.75,"y":0.6},{"s":"W4","x":5,"y":0.25},{"s":"W4","x":5.25,"y":-0.15},{"s":"W4","x":5.5,"y":-0.55},{"s":"W4","x":5.75,"y":-0.8},{"s":"W4","x":6,"y":-0.7},{"s":"W4","x":6.12,"y":0.5},{"s":"W4","x":6.22,"y":2.5},{"s":"W4","x":6.32,"y":3.5},
{"s":"W5","x":0,"y":0.7},{"s":"W5","x":0.25,"y":0.9},{"s":"W5","x":0.5,"y":0.95},{"s":"W5","x":0.75,"y":1.0},{"s":"W5","x":1,"y":0.7},{"s":"W5","x":1.25,"y":0.4},{"s":"W5","x":1.5,"y":0.0},{"s":"W5","x":1.75,"y":-0.45},{"s":"W5","x":2,"y":-0.75},{"s":"W5","x":2.25,"y":-0.95},{"s":"W5","x":2.5,"y":-1.0},{"s":"W5","x":2.75,"y":-0.8},{"s":"W5","x":3,"y":-0.45},{"s":"W5","x":3.25,"y":-0.05},{"s":"W5","x":3.45,"y":0.3},{"s":"W5","x":3.6,"y":0.8},{"s":"W5","x":3.67,"y":2.2},{"s":"W5","x":3.72,"y":2.6},{"s":"W5","x":3.78,"y":2.0},{"s":"W5","x":3.86,"y":0.9},{"s":"W5","x":4,"y":0.95},{"s":"W5","x":4.2,"y":1.0},{"s":"W5","x":4.35,"y":1.3},{"s":"W5","x":4.46,"y":2.4},{"s":"W5","x":4.62,"y":2.8},{"s":"W5","x":4.78,"y":2.2},{"s":"W5","x":4.88,"y":0.6},{"s":"W5","x":5,"y":0.2},{"s":"W5","x":5.25,"y":-0.15},{"s":"W5","x":5.5,"y":-0.5},{"s":"W5","x":5.7,"y":-0.8},{"s":"W5","x":5.85,"y":-1.4},{"s":"W5","x":5.95,"y":-2.6},{"s":"W5","x":6.05,"y":-1.5},{"s":"W5","x":6.15,"y":0.5},{"s":"W5","x":6.25,"y":2.6},
{"s":"W6","x":0,"y":0.55},{"s":"W6","x":0.25,"y":0.8},{"s":"W6","x":0.5,"y":1.05},{"s":"W6","x":0.75,"y":1.0},{"s":"W6","x":1,"y":0.75},{"s":"W6","x":1.25,"y":0.4},{"s":"W6","x":1.5,"y":-0.05},{"s":"W6","x":1.75,"y":-0.45},{"s":"W6","x":2,"y":-0.8},{"s":"W6","x":2.25,"y":-0.9},{"s":"W6","x":2.5,"y":-0.95},{"s":"W6","x":2.75,"y":-0.85},{"s":"W6","x":3,"y":-0.45},{"s":"W6","x":3.25,"y":0.0},{"s":"W6","x":3.5,"y":0.35},{"s":"W6","x":3.75,"y":0.7},{"s":"W6","x":4,"y":0.95},{"s":"W6","x":4.25,"y":1.0},{"s":"W6","x":4.5,"y":0.9},{"s":"W6","x":4.75,"y":0.6},{"s":"W6","x":5,"y":0.25},{"s":"W6","x":5.1,"y":-0.3},{"s":"W6","x":5.2,"y":-1.8},{"s":"W6","x":5.3,"y":-2.8},{"s":"W6","x":5.42,"y":-1.5},{"s":"W6","x":5.55,"y":-0.6},{"s":"W6","x":5.75,"y":-0.75},{"s":"W6","x":5.92,"y":-1.2},{"s":"W6","x":6,"y":-0.8},{"s":"W6","x":6.1,"y":1.0},{"s":"W6","x":6.18,"y":2.6},{"s":"W6","x":6.28,"y":1.0},{"s":"W6","x":6.38,"y":-1.5},{"s":"W6","x":6.47,"y":-3.0},
{"s":"W7","x":0,"y":2.8},{"s":"W7","x":0.07,"y":1.9},{"s":"W7","x":0.15,"y":1.2},{"s":"W7","x":0.3,"y":0.75},{"s":"W7","x":0.5,"y":0.9},{"s":"W7","x":0.75,"y":1.05},{"s":"W7","x":1,"y":0.8},{"s":"W7","x":1.25,"y":0.4},{"s":"W7","x":1.5,"y":-0.05},{"s":"W7","x":1.75,"y":-0.5},{"s":"W7","x":2,"y":-0.7},{"s":"W7","x":2.15,"y":-1.1},{"s":"W7","x":2.25,"y":-2.0},{"s":"W7","x":2.35,"y":-2.6},{"s":"W7","x":2.45,"y":-1.6},{"s":"W7","x":2.55,"y":-1.0},{"s":"W7","x":2.75,"y":-0.75},{"s":"W7","x":3,"y":-0.45},{"s":"W7","x":3.25,"y":-0.05},{"s":"W7","x":3.5,"y":0.4},{"s":"W7","x":3.75,"y":0.7},{"s":"W7","x":4,"y":0.95},{"s":"W7","x":4.25,"y":1.0},{"s":"W7","x":4.5,"y":0.85},{"s":"W7","x":4.75,"y":0.6},{"s":"W7","x":5,"y":0.25},{"s":"W7","x":5.25,"y":-0.15},{"s":"W7","x":5.4,"y":-0.5},{"s":"W7","x":5.52,"y":-1.8},{"s":"W7","x":5.62,"y":-2.8},{"s":"W7","x":5.72,"y":-1.6},{"s":"W7","x":5.82,"y":-0.9},{"s":"W7","x":5.95,"y":-1.0},{"s":"W7","x":6.05,"y":-0.5},{"s":"W7","x":6.15,"y":-1.8},{"s":"W7","x":6.25,"y":-2.8},{"s":"W7","x":6.35,"y":-1.0},{"s":"W7","x":6.45,"y":1.5},{"s":"W7","x":6.55,"y":3.0},
{"s":"W8","x":0,"y":-2.0},{"s":"W8","x":0.08,"y":-0.8},{"s":"W8","x":0.18,"y":0.3},{"s":"W8","x":0.3,"y":0.85},{"s":"W8","x":0.5,"y":1.1},{"s":"W8","x":0.75,"y":0.9},{"s":"W8","x":1,"y":0.7},{"s":"W8","x":1.25,"y":0.45},{"s":"W8","x":1.5,"y":0.05},{"s":"W8","x":1.75,"y":-0.4},{"s":"W8","x":2,"y":-0.75},{"s":"W8","x":2.25,"y":-1.0},{"s":"W8","x":2.5,"y":-0.95},{"s":"W8","x":2.75,"y":-0.8},{"s":"W8","x":3,"y":-0.45},{"s":"W8","x":3.25,"y":-0.05},{"s":"W8","x":3.5,"y":0.35},{"s":"W8","x":3.75,"y":0.75},{"s":"W8","x":4,"y":0.9},{"s":"W8","x":4.25,"y":1.0},{"s":"W8","x":4.5,"y":0.9},{"s":"W8","x":4.75,"y":0.6},{"s":"W8","x":5,"y":0.25},{"s":"W8","x":5.25,"y":-0.15},{"s":"W8","x":5.5,"y":-0.5},{"s":"W8","x":5.65,"y":-0.7},{"s":"W8","x":5.75,"y":-1.6},{"s":"W8","x":5.85,"y":-2.8},{"s":"W8","x":5.95,"y":-1.5},{"s":"W8","x":6.05,"y":-0.9},{"s":"W8","x":6.15,"y":-0.5},{"s":"W8","x":6.28,"y":1.0},{"s":"W8","x":6.38,"y":3.0}
]
},
"layer": [
  {
    "data": {"name": "fits"},
    "mark": {"type": "line", "stroke": "#000000", "strokeWidth": 1, "opacity": 0.27, "interpolate": "catmull-rom", "clip": true},
    "encoding": {
      "x": {"field": "x", "type": "quantitative", "scale": {"domain": [0, 6.55], "nice": false, "zero": false}, "axis": null},
      "y": {"field": "y", "type": "quantitative", "scale": {"domain": [-2, 2], "nice": false, "zero": false}, "axis": null},
      "detail": {"field": "s", "type": "nominal"}
    }
  },
  {
    "data": {"name": "curves"},
    "transform": [{"filter": "datum.series === 'Average of Fits'"}],
    "mark": {"type": "line", "strokeWidth": 5.5, "clip": true},
    "encoding": {
      "x": {"field": "x", "type": "quantitative"},
      "y": {"field": "y", "type": "quantitative"},
      "color": {"field": "series", "type": "nominal", "scale": {"domain": ["Average of Fits", "Ground Truth"], "range": ["#1f77b4", "#2ca02c"]}, "legend": {"title": null, "symbolType": "M-2,0L2,0"}},
      "strokeDash": {"field": "series", "type": "nominal", "scale": {"domain": ["Average of Fits", "Ground Truth"], "range": [[1, 0], [20.5, 9]]}, "legend": {"title": null, "symbolType": "M-2,0L2,0"}}
    }
  },
  {
    "data": {"name": "curves"},
    "transform": [{"filter": "datum.series === 'Ground Truth'"}],
    "mark": {"type": "line", "strokeWidth": 5.5, "clip": true},
    "encoding": {
      "x": {"field": "x", "type": "quantitative"},
      "y": {"field": "y", "type": "quantitative"},
      "color": {"field": "series", "type": "nominal"},
      "strokeDash": {"field": "series", "type": "nominal"}
    }
  }
]
}
